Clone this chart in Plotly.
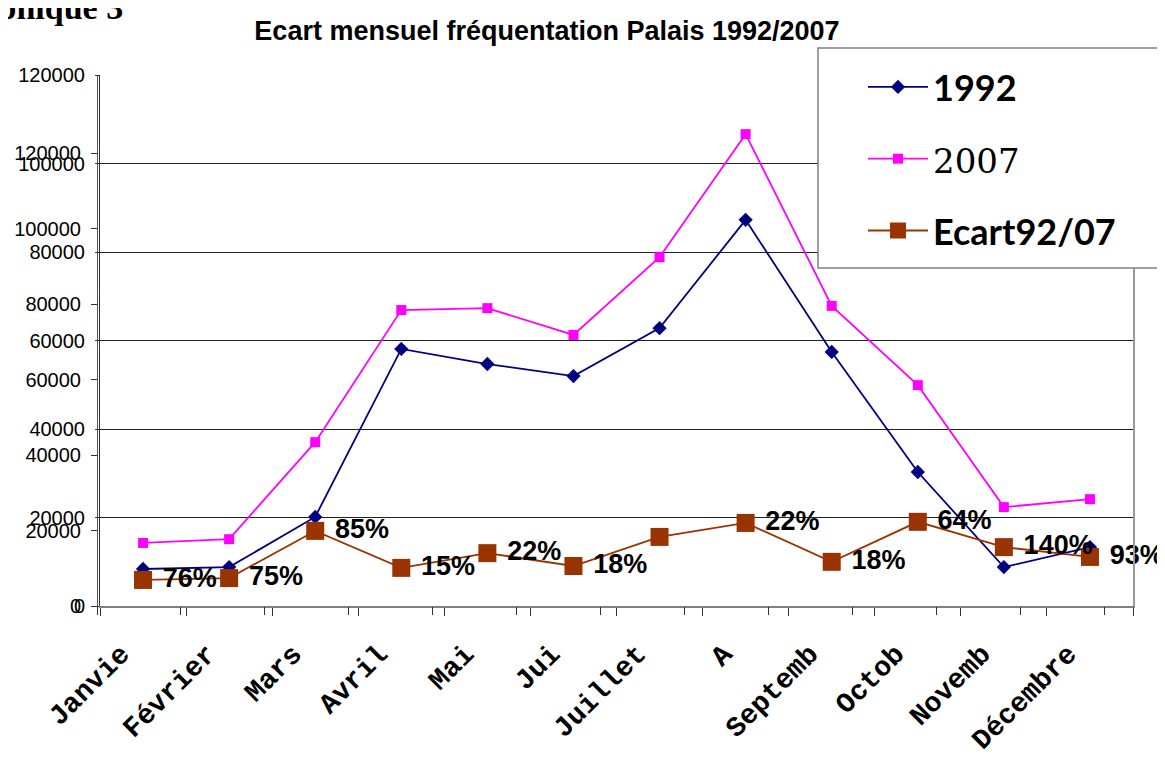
import plotly.graph_objects as go

# ---- data ----
months = ["Janvie", "Février", "Mars", "Avril", "Mai", "Jui", "Juillet", "A",
          "Septemb", "Octob", "Novemb", "Décembre"]
v1992 = [9800, 10300, 23600, 68100, 64100, 60900, 73600, 102300, 67300, 35500, 10300, 15600]
v2007 = [16700, 17700, 43400, 78400, 78900, 71800, 92400, 125000, 79500, 58500, 26200, 28300]
ecart = [6900, 7400, 19900, 10100, 14000, 10600, 18300, 22000, 11700, 22300, 15600, 13000]
ecart_pct = ["76%", "75%", "85%", "15%", "22%", "18%", "", "22%", "18%", "64%", "140%", "93%"]
y_ticks = [0, 20000, 40000, 60000, 80000, 100000, 120000]
y_tick_text = [str(t) for t in y_ticks]
back_x_ticks = list(range(13))

# the page body adds an 8px offset; figure is sized so the page is 1165x760
OFF = 8
W, H = 1165 - OFF, 760 - OFF
# plot area in page pixels: x 97..1133, y 75..606
L, T = 97 - OFF, 75 - OFF
R = W - (1133 - OFF)
B = H - (606 - OFF)
PW, PH = W - L - R, H - T - B

def px_x(p):          # page pixel -> paper x
    return (p - OFF - L) / PW

def px_y(p):          # page pixel -> paper y
    return (H - B - (p - OFF)) / PH

LEG_FONT = "Lato, Roboto, sans-serif"

fig = go.Figure()
fig.add_trace(go.Scatter(
    x=months, y=v1992, mode="lines+markers", name="<b>1992</b>",
    line=dict(color="#000080", width=1.8),
    marker=dict(symbol="diamond", size=11, color="#000080"),
    legendgroup="a"))
fig.add_trace(go.Scatter(
    x=months, y=v2007, mode="lines+markers",
    name='<span style="font-family:DejaVu Serif, serif;font-weight:normal;font-size:34px">2007</span>',
    line=dict(color="#FF00FF", width=1.8),
    marker=dict(symbol="square", size=10, color="#FF00FF"),
    legendgroup="b"))
fig.add_trace(go.Scatter(
    x=months, y=ecart, mode="lines+markers+text", name="<b>Ecart92/07</b>",
    line=dict(color="#993300", width=1.8),
    marker=dict(symbol="square", size=18, color="#993300"),
    text=ecart_pct, texttemplate=" %{text}", textposition="middle right", cliponaxis=False,
    textfont=dict(family="Liberation Sans, Arial", size=27, color="black", weight="bold"),
    legendgroup="c"))

# empty traces so that the background chart's axes are drawn
fig.add_trace(go.Scatter(x=[], y=[], yaxis="y2", showlegend=False, hoverinfo="skip"))
fig.add_trace(go.Scatter(x=[], y=[], yaxis="y3", showlegend=False, hoverinfo="skip"))
fig.add_trace(go.Scatter(x=[], y=[], xaxis="x2", showlegend=False, hoverinfo="skip"))

scale_top = 120000 * PH / 453.0

fig.update_layout(
    width=W, height=H,
    margin=dict(l=L, r=R, t=T, b=B, autoexpand=False),
    paper_bgcolor="white", plot_bgcolor="rgba(0,0,0,0)",
    font=dict(family="Liberation Sans, Arial", color="black"),
    title=dict(text="<b>Ecart mensuel fréquentation Palais 1992/2007</b>",
               x=(547 - OFF) / W, xref="container", xanchor="center",
               y=1 - (31 - OFF) / H, yref="container", yanchor="middle",
               font=dict(family="Liberation Sans, Arial", size=27, color="black")),
    xaxis=dict(domain=[3 / PW, 1], type="category", range=[-0.5, 11.5],
               showline=True, linecolor="#808080", linewidth=2,
               ticks="outside", ticklen=8, tickcolor="#333", tickson="boundaries",
               tickangle=-45, ticklabelstandoff=18, ticklabelshift=-22,
               tickfont=dict(family="Liberation Mono, monospace", size=28, color="black", weight="bold"),
               showgrid=False, zeroline=False, anchor="y"),
    xaxis2=dict(domain=[0, 1007 / PW], range=[0, 12], type="linear",
                anchor="free", position=0, tickvals=back_x_ticks,
                ticks="outside", ticklen=8, tickcolor="#333",
                showticklabels=False, showline=False, showgrid=False, zeroline=False),
    yaxis=dict(range=[0, scale_top], tickvals=y_ticks, ticktext=y_tick_text,
               anchor="free", position=0, ticks="outside", ticklen=6, tickcolor="#333",
               showline=True, linecolor="#555", linewidth=1,
               tickfont=dict(size=20, color="black"), ticklabelstandoff=6,
               showgrid=False, zeroline=False),
    yaxis2=dict(range=[0, 120000], tickvals=y_ticks, ticktext=y_tick_text,
                overlaying="y", anchor="x", side="left",
                ticks="outside", ticklen=4, tickcolor="#333",
                showline=True, linecolor="#333", linewidth=1,
                showgrid=True, gridcolor="#222", gridwidth=1,
                tickfont=dict(size=20, color="black"), ticklabelstandoff=6,
                zeroline=False),
    yaxis3=dict(range=[0, 1], overlaying="y", anchor="x", side="right",
                showline=True, linecolor="#9a9a9a", linewidth=2,
                showticklabels=False, ticks="", showgrid=False, zeroline=False),
    legend=dict(x=px_x(863), y=px_y(57), xanchor="left", yanchor="top",
                bgcolor="rgba(0,0,0,0)", borderwidth=0,
                font=dict(family=LEG_FONT, size=36, color="black", weight=900),
                tracegroupgap=22, itemwidth=60),
    showlegend=True,
)

fig.add_shape(type="rect", xref="paper", yref="paper",
              x0=px_x(818), x1=px_x(1162), y0=px_y(268), y1=px_y(48),
              fillcolor="white", line=dict(color="#808080", width=1.5), layer="above")

fig.add_annotation(text="<b>Graphique 3</b>", xref="paper", yref="paper",
                   x=px_x(125), y=px_y(28), xanchor="right", yanchor="bottom",
                   showarrow=False,
                   font=dict(family="Liberation Serif, Times New Roman, serif", size=34, color="black"))

fig.write_html("out.html")
